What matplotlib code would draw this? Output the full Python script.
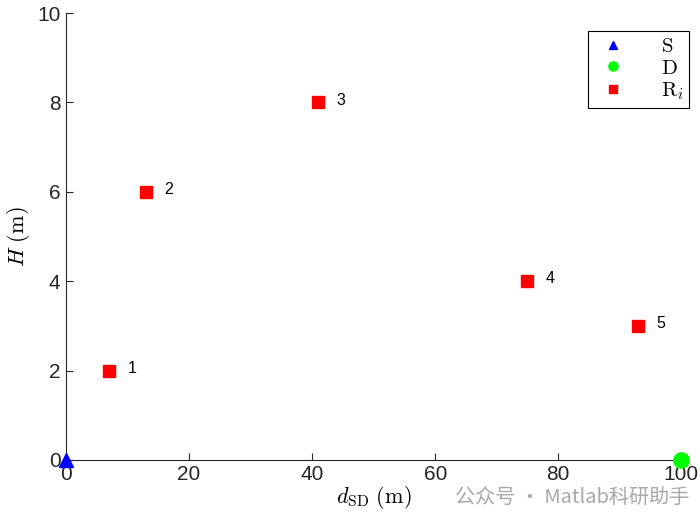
import matplotlib
matplotlib.use('Agg')
from matplotlib import pyplot as plt

plt.rcParams['font.family'] = ['Liberation Sans', 'DejaVu Sans']
plt.rcParams['mathtext.fontset'] = 'cm'

# node positions
src_x, src_y = [0], [0]
dst_x, dst_y = [100], [0]
relay_x = [7, 13, 41, 75, 93]
relay_y = [2, 6, 8, 4, 3]
relay_ids = ['1', '2', '3', '4', '5']

fig = plt.figure(figsize=(7, 5.25), dpi=100)
ax = fig.add_axes([0.0943, 0.124, 0.879, 0.851])

ax.plot(src_x, src_y, '^', color='#0000ff', markersize=10.5, clip_on=False, label=r'$\mathrm{S}$', zorder=5)
ax.plot(dst_x, dst_y, 'o', color='#00ff00', markersize=11, clip_on=False, label=r'$\mathrm{D}$', zorder=5)
ax.plot(relay_x, relay_y, 's', color='#ff0000', markersize=8.5, label=r'$\mathrm{R}_i$', zorder=5)

#relay numbers next to the markers
for x, y, t in zip(relay_x, relay_y, relay_ids):
    ax.text(x + 3, y + 0.05, t, fontsize=11.5, va='center', ha='left')

ax.set_xlim(0, 100)
ax.set_ylim(0, 10)
ax.set_xticks([0, 20, 40, 60, 80, 100])
ax.set_yticks([0, 2, 4, 6, 8, 10])
ax.tick_params(direction='in', labelsize=15, length=5, width=0.8, colors='#262626', pad=4)
for s in ['top', 'right']:
    ax.spines[s].set_visible(False)
for s in ['left', 'bottom']:
    ax.spines[s].set_color('#262626')
    ax.spines[s].set_linewidth(0.8)

ax.set_xlabel(r'$d_{\mathrm{SD}}\ (\mathrm{m})$', fontsize=16, labelpad=0)
ax.set_ylabel(r'$H\ (\mathrm{m})$', fontsize=16, labelpad=4)

leg = ax.legend(loc='upper right', bbox_to_anchor=(1.013, 0.96), borderaxespad=0, fontsize=15,
                fancybox=False, edgecolor='black', framealpha=1, markerscale=0.6,
                handlelength=1.8, handletextpad=1.4, borderpad=0.3, labelspacing=0.12)
leg.get_frame().set_linewidth(0.8)

fig.text(0.65, 0.053, '公众号 · Matlab科研助手', fontsize=14.5, color='#a8a8a8',
         family=['Noto Sans CJK SC', 'DejaVu Sans'], va='center')

fig.savefig('out.png', dpi=100)
